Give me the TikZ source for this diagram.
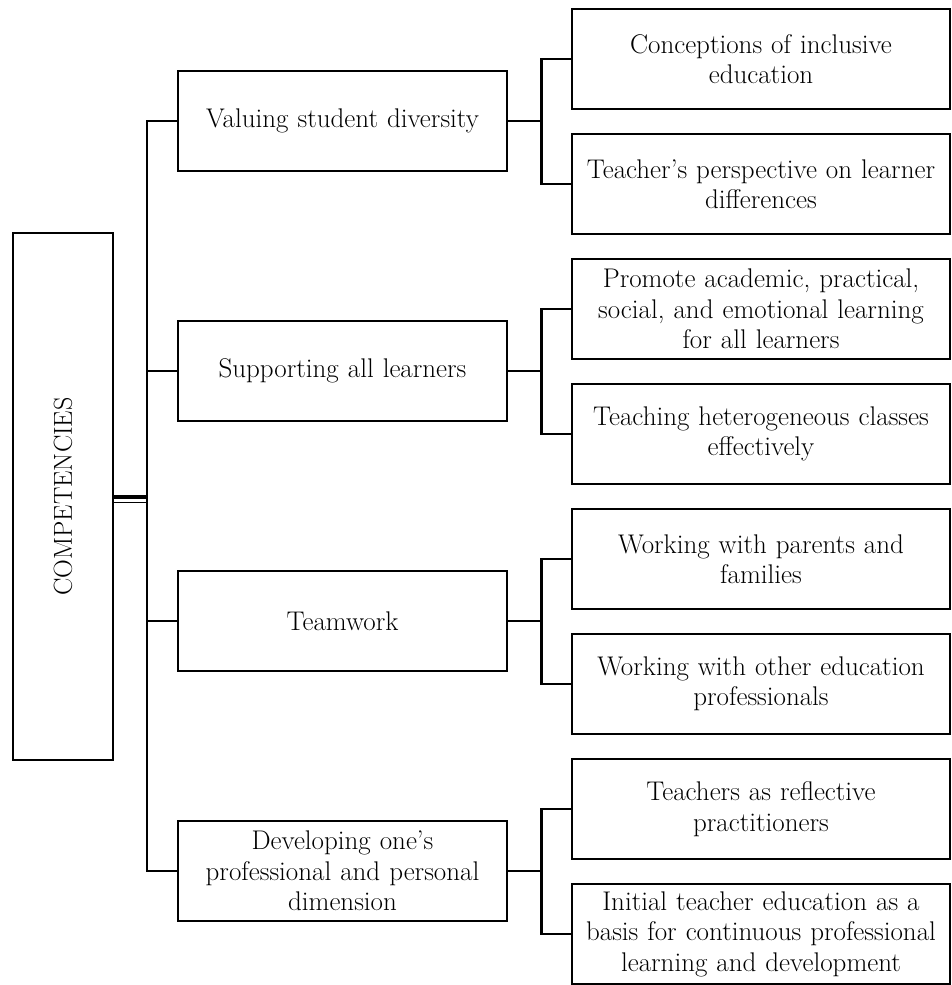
\documentclass[tikz,border=0pt]{standalone}
\begin{document}
\begin{tikzpicture}[x=1pt,y=-1pt,
  box/.style={draw, line width=2.8pt, align=center, inner sep=0pt, font=\fontsize{27}{30.5}\selectfont},
  midbox/.style={box, minimum width=329pt, minimum height=100pt, text width=325pt},
  rbox/.style={box, minimum width=378pt, minimum height=100pt, text width=376pt},
  link/.style={line width=2.8pt}]
\useasboundingbox (0,0) rectangle (951,985);
% root
\node[box, minimum width=100pt, minimum height=527pt] (root) at (63,496.5)
  {\rotatebox{90}{\fontsize{26}{28}\selectfont COMPETENCIES}};
% middle boxes
\node[midbox] (m1) at (342.5,121) {Valuing student diversity};
\node[midbox] (m2) at (342.5,371) {Supporting all learners};
\node[midbox] (m3) at (342.5,621) {Teamwork};
\node[midbox] (m4) at (342.5,871) {Developing one's\\professional and personal\\dimension};
% right boxes
\node[rbox] (r1a) at (761,59) {Conceptions of inclusive\\education};
\node[rbox] (r1b) at (761,184) {Teacher's perspective on learner\\differences};
\node[rbox] (r2a) at (761,309) {Promote academic, practical,\\social, and emotional learning\\for all learners};
\node[rbox] (r2b) at (761,434) {Teaching heterogeneous classes\\effectively};
\node[rbox] (r3a) at (761,559) {Working with parents and\\families};
\node[rbox] (r3b) at (761,684) {Working with other education\\professionals};
\node[rbox] (r4a) at (761,809) {Teachers as reflective\\practitioners};
\node[rbox] (r4b) at (761,934) {Initial teacher education as a\\basis for continuous professional\\learning and development};
% trunk
\coordinate (tj) at (147,496.5);
\foreach \m in {m1,m2,m3,m4} \draw[link] (\m.west) -| (tj);
\draw[line width=4pt] (root.east) -- (tj);
\draw[line width=1.8pt] ([yshift=-6pt]root.east) -- ([yshift=-6pt]tj);
% branches
\foreach \m/\a/\b in {m1/r1a/r1b, m2/r2a/r2b, m3/r3a/r3b, m4/r4a/r4b}{
  \coordinate (j\m) at ([xshift=33pt]\m.east);
  \draw[link] (\m.east) -- (j\m);
  \draw[link] (\a.west) -| (j\m);
  \draw[link] (\b.west) -| (j\m);
}
\end{tikzpicture}
\end{document}
